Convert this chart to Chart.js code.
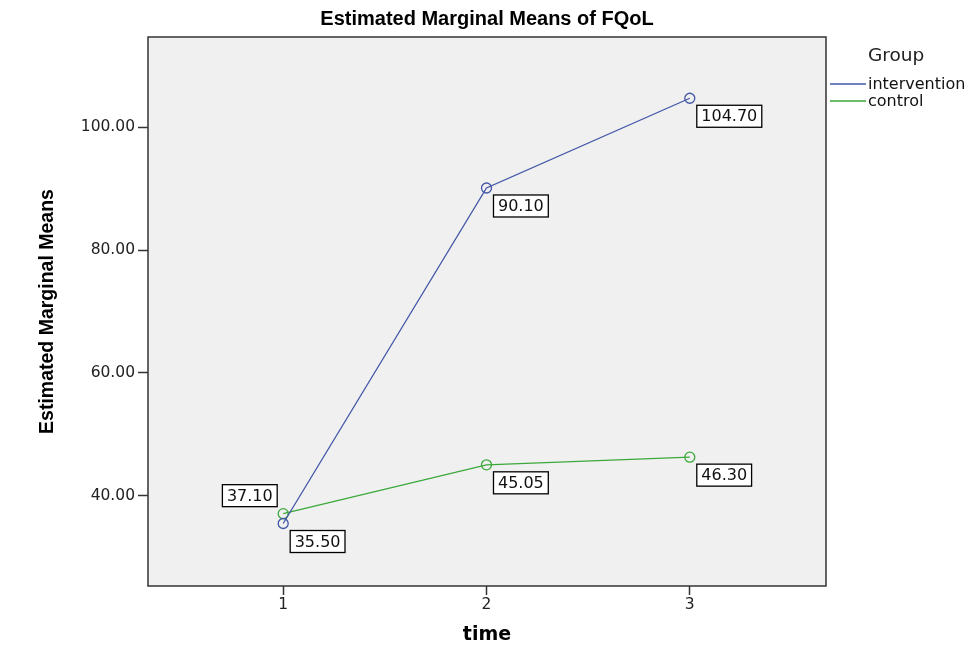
<!DOCTYPE html>
<html>
<head>
<meta charset="utf-8">
<script src="https://cdn.jsdelivr.net/npm/chart.js@4.4.0/dist/chart.umd.min.js"></script>
<style>
html, body { margin: 0; padding: 0; background: #fff; }
</style>
</head>
<body>
<canvas id="myChart" width="969" height="646"></canvas>
<script>
// data
const timePoints = [1, 2, 3];
const groupNames = ['intervention', 'control'];
const interventionMeans = [35.50, 90.10, 104.70];
const controlMeans = [37.10, 45.05, 46.30];
const yTickValues = [40, 60, 80, 100];

const blue = '#4256a8';
const green = '#3aa83a';
const tickFont = { family: 'DejaVu Sans, Arial, sans-serif', size: 15.5 };

// where each value box sits relative to its point
const boxPlacement = {
    0: ['below', 'below', 'below'],
    1: ['above', 'below', 'below']
};

const plotFrame = {
    id: 'plotFrame',
    beforeDraw(chart) {
        const { ctx, chartArea: a } = chart;
        ctx.save();
        ctx.fillStyle = '#f0f0f0';
        ctx.fillRect(a.left, a.top, a.right - a.left, a.bottom - a.top);
        ctx.restore();
    },
    afterDraw(chart) {
        const { ctx, chartArea: a } = chart;
        ctx.save();
        ctx.strokeStyle = '#333';
        ctx.lineWidth = 1.5;
        ctx.strokeRect(a.left, a.top, a.right - a.left, a.bottom - a.top);
        ctx.restore();
    }
};

const valueBoxes = {
    id: 'valueBoxes',
    afterDatasetsDraw(chart) {
        const ctx = chart.ctx;
        ctx.save();
        ctx.font = '16px DejaVu Sans, Arial, sans-serif';
        ctx.textBaseline = 'middle';
        chart.data.datasets.forEach((ds, di) => {
            const meta = chart.getDatasetMeta(di);
            meta.data.forEach((pt, i) => {
                const txt = ds.data[i].y.toFixed(2);
                const w = ctx.measureText(txt).width + 9;
                const h = 22;
                let bx, by;
                if (boxPlacement[di][i] === 'above') {
                    bx = pt.x - 6 - w;
                    by = pt.y - 7 - h;
                } else {
                    bx = pt.x + 7;
                    by = pt.y + 7;
                }
                ctx.fillStyle = '#fff';
                ctx.fillRect(bx, by, w, h);
                ctx.strokeStyle = '#000';
                ctx.lineWidth = 1.3;
                ctx.strokeRect(bx, by, w, h);
                ctx.fillStyle = '#111';
                ctx.textAlign = 'center';
                ctx.fillText(txt, bx + w / 2, by + h / 2 + 1);
            });
        });
        ctx.restore();
    }
};

const groupLegend = {
    id: 'groupLegend',
    afterDraw(chart) {
        const ctx = chart.ctx;
        ctx.save();
        ctx.fillStyle = '#222';
        ctx.textBaseline = 'middle';
        ctx.font = '18.5px DejaVu Sans, Arial, sans-serif';
        ctx.fillText('Group', 868, 56);
        ctx.font = '16px DejaVu Sans, Arial, sans-serif';
        chart.data.datasets.forEach((ds, i) => {
            const y = 84 + i * 17;
            ctx.strokeStyle = ds.borderColor;
            ctx.lineWidth = 1.3;
            ctx.beginPath();
            ctx.moveTo(830, y);
            ctx.lineTo(866, y);
            ctx.stroke();
            ctx.fillStyle = '#111';
            ctx.fillText(ds.label, 868, y + 1);
        });
        ctx.restore();
    }
};

const toPoints = (vals) => vals.map((v, i) => ({ x: timePoints[i], y: v }));

new Chart(document.getElementById('myChart'), {
    type: 'line',
    data: {
        datasets: [
            {
                label: groupNames[0],
                data: toPoints(interventionMeans),
                borderColor: blue,
                borderWidth: 1.3,
                pointRadius: 5,
                pointBorderWidth: 1.3,
                pointBackgroundColor: 'rgba(0,0,0,0)',
                pointBorderColor: blue,
                tension: 0
            },
            {
                label: groupNames[1],
                data: toPoints(controlMeans),
                borderColor: green,
                borderWidth: 1.3,
                pointRadius: 5,
                pointBorderWidth: 1.3,
                pointBackgroundColor: 'rgba(0,0,0,0)',
                pointBorderColor: green,
                tension: 0
            }
        ]
    },
    options: {
        responsive: false,
        animation: false,
        layout: { padding: { left: 0, right: 143, top: 0, bottom: 0 } },
        plugins: {
            legend: { display: false },
            tooltip: { enabled: false },
            title: {
                display: true,
                text: 'Estimated Marginal Means of FQoL',
                fullSize: false,
                color: '#000',
                font: { family: 'Arial, Liberation Sans, sans-serif', size: 20, weight: 'bold' },
                padding: { top: 7, bottom: 6 }
            }
        },
        scales: {
            x: {
                type: 'linear',
                min: 0.335,
                max: 3.67,
                afterBuildTicks: (s) => { s.ticks = timePoints.map(v => ({ value: v })); },
                afterFit: (s) => { s.height = 60; },
                ticks: { color: '#222', font: tickFont, padding: 1, callback: (v) => String(v) },
                grid: { drawOnChartArea: false, drawTicks: true, tickLength: 9, color: '#333', tickWidth: 1.5 },
                border: { display: false },
                title: {
                    display: true,
                    text: 'time',
                    color: '#000',
                    font: { family: 'DejaVu Sans, Arial, sans-serif', size: 19, weight: 'bold' },
                    padding: { top: -2, bottom: 0 }
                }
            },
            y: {
                min: 25.33,
                max: 114.67,
                afterBuildTicks: (s) => { s.ticks = yTickValues.map(v => ({ value: v })); },
                afterFit: (s) => { s.width = 148; },
                ticks: { color: '#222', font: tickFont, padding: 3, callback: (v) => v.toFixed(2) },
                grid: { drawOnChartArea: false, drawTicks: true, tickLength: 10, color: '#333', tickWidth: 1.5 },
                border: { display: false },
                title: {
                    display: true,
                    text: 'Estimated Marginal Means',
                    color: '#000',
                    font: { family: 'Liberation Sans Narrow, Arial Narrow, Arial, sans-serif', size: 19.5, weight: 'bold' },
                    padding: { top: 36, bottom: 0 }
                }
            }
        }
    },
    plugins: [plotFrame, valueBoxes, groupLegend]
});
</script>
</body>
</html>
